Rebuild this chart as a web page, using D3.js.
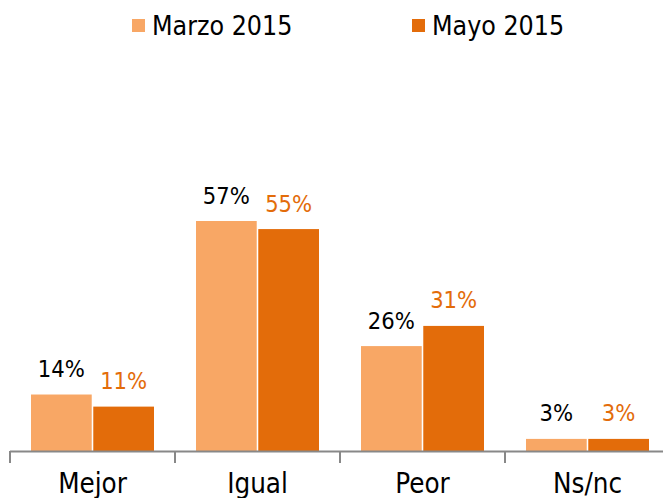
<!DOCTYPE html>
<html><head><meta charset="utf-8">
<script src="https://cdn.jsdelivr.net/npm/d3@7"></script>
<style>body{margin:0;background:#fff;}svg{display:block;font-family:"DejaVu Sans Condensed","DejaVu Sans",sans-serif;}</style>
</head><body>
<svg id="c" width="663" height="498"></svg>
<script>
const categories = ["Mejor","Igual","Peor","Ns/nc"];
const seriesNames = ["Marzo 2015","Mayo 2015"];
const marzo = [14,57,26,3];
const mayo = [11,55,31,3];
const colors = ["#F8A765","#E36C0A"];
const labelColors = ["#000000","#E36C0A"];

const svg = d3.select("#c");
const base = 451;
const x = d3.scaleBand().domain(categories).range([10,670]).paddingInner(0).paddingOuter(0);
const y = d3.scaleLinear().domain([0,60]).range([base, base-60*4.035]);
const inner = d3.scaleBand().domain([0,1]).range([21, 165-21]).paddingInner(0.025);

const series = [marzo, mayo];
series.forEach((vals,si)=>{
  const g = svg.append("g");
  g.selectAll("rect").data(vals).join("rect")
    .attr("x",(d,i)=>x(categories[i])+inner(si))
    .attr("width",inner.bandwidth())
    .attr("y",d=>y(d))
    .attr("height",d=>base-y(d))
    .attr("fill",colors[si]);
  g.selectAll("text").data(vals).join("text")
    .attr("x",(d,i)=>x(categories[i])+inner(si)+inner.bandwidth()/2)
    .attr("y",d=>y(d)-17.5)
    .attr("text-anchor","middle")
    .attr("font-size",23.5)
    .attr("fill",labelColors[si])
    .text(d=>d+"%");
});

// axis
const ax = svg.append("g");
ax.append("line").attr("x1",10).attr("x2",663).attr("y1",base+0.5).attr("y2",base+0.5).attr("stroke","#888").attr("stroke-width",2);
const tickPos = categories.map(c=>x(c));
ax.selectAll("line.t").data(tickPos).join("line").attr("class","t")
  .attr("x1",d=>d).attr("x2",d=>d).attr("y1",base).attr("y2",base+12)
  .attr("stroke","#888").attr("stroke-width",2);
ax.selectAll("text").data(categories).join("text")
  .attr("x",d=>x(d)+x.bandwidth()/2).attr("y",493)
  .attr("text-anchor","middle").attr("font-size",27.5).attr("fill","#000").text(d=>d);

// legend
const leg = [{x:132,tx:152},{x:412,tx:432}];
seriesNames.forEach((n,i)=>{
  svg.append("rect").attr("x",leg[i].x).attr("y",19).attr("width",13).attr("height",13).attr("fill",colors[i]);
  svg.append("text").attr("x",leg[i].tx).attr("y",35).attr("font-size",26.5).attr("fill","#000").text(n);
});
</script>
</body></html>
